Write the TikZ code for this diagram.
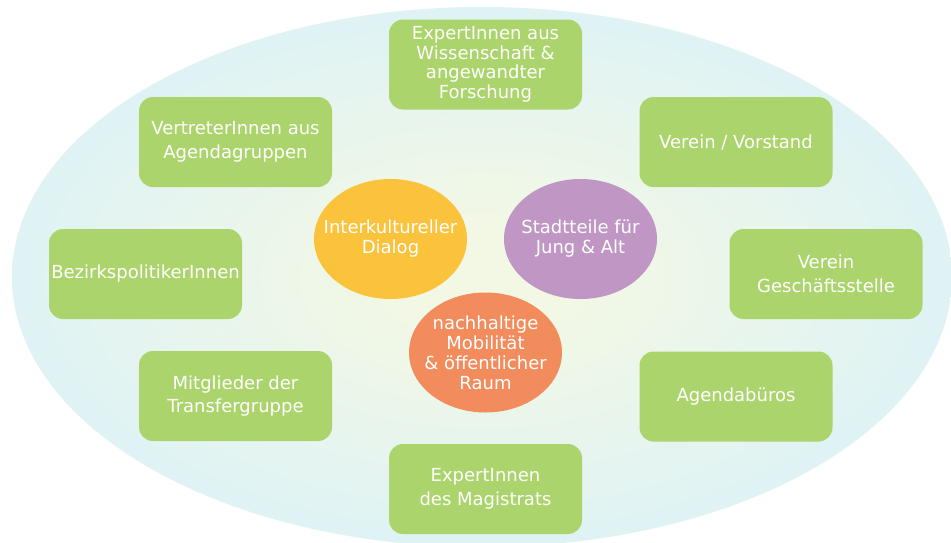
\documentclass[tikz,border=0pt]{standalone}
\usepackage{fontspec}
\setmainfont{DejaVu Sans}
\usepackage{tikz}
\usetikzlibrary{shapes.geometric}
\definecolor{gruen}{HTML}{ACD46C}
\definecolor{gelb}{HTML}{FBC23C}
\definecolor{lila}{HTML}{C096C5}
\definecolor{orange}{HTML}{F28C5C}
\definecolor{rand}{HTML}{DCF2F7}
\definecolor{mitte}{HTML}{F3F8E4}
\pgfdeclareradialshading{hintergrund}{\pgfpoint{0bp}{0bp}}{color(0bp)=(mitte); color(4bp)=(mitte); color(28bp)=(rand); color(50bp)=(rand)}
\tikzset{gruppe/.style = {rectangle, rounded corners=14pt, fill=gruen, text=white, align=center, minimum width=193pt, minimum height=90pt, inner sep=0pt, font=\fontsize{18}{23.5}\selectfont}}
\tikzset{thema/.style = {ellipse, minimum width=153pt, minimum height=120pt, inner sep=0pt}}
\tikzset{themaschrift/.style = {text=white, align=center, font=\fontsize{18}{20}\selectfont}}

\begin{document}
\begin{tikzpicture}[x=1pt, y=-1pt]
\useasboundingbox (0, 0) rectangle (951, 542);
\clip (0, 0) rectangle (951, 542);
\fill [white] (0, 0) rectangle (951, 542);
\shade [shading=hintergrund] (482, 277) ellipse [x radius=470, y radius=270];

\node [gruppe, font=\fontsize{18}{19.5}\selectfont] (wissenschaft) at (485.5, 64.5) {ExpertInnen aus\\Wissenschaft \&\\angewandter\\Forschung};
\node [gruppe] (vertreter) at (235.5, 142) {VertreterInnen aus\\Agendagruppen};
\node [gruppe] (bezirk) at (145.5, 274) {BezirkspolitikerInnen};
\node [gruppe] (mitglieder) at (235.5, 396) {Mitglieder der\\Transfergruppe};
\node [gruppe] (magistrat) at (485.5, 489) {ExpertInnen\\des Magistrats};
\node [gruppe] (vorstand) at (736, 142) {Verein / Vorstand};
\node [gruppe] (geschaeft) at (826, 274) {Verein\\Geschäftsstelle};
\node [gruppe] (agenda) at (736, 396.5) {Agendabüros};

\node [thema, fill=gelb, label={[themaschrift]center:{Interkultureller\\Dialog}}] (dialog) at (390.5, 239) {};
\node [thema, fill=lila, label={[themaschrift]center:{Stadtteile für\\Jung \& Alt}}] (stadtteile) at (580.5, 239) {};
\node [thema, fill=orange, label={[themaschrift]center:{nachhaltige\\Mobilität\\\& öffentlicher\\Raum}}] (mobil) at (485.5, 352.5) {};
\end{tikzpicture}
\end{document}
